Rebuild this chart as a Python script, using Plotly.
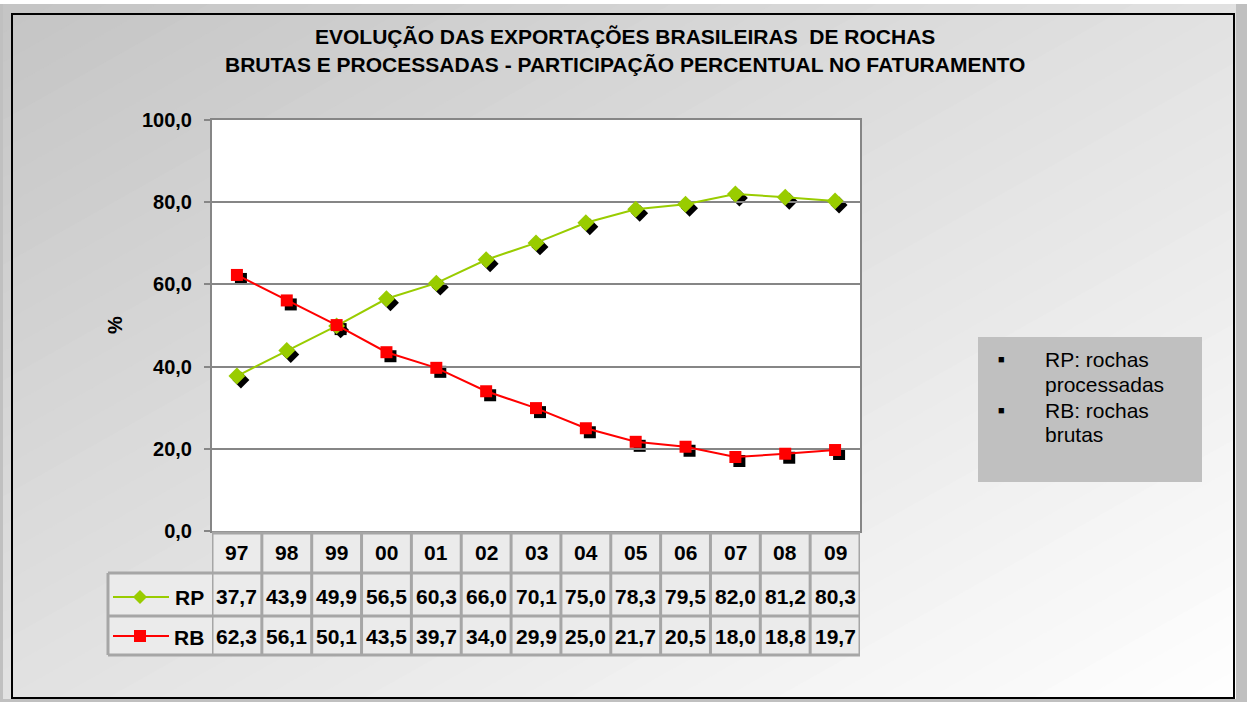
import plotly.graph_objects as go

# ---------------- data ----------------
years = ["97", "98", "99", "00", "01", "02", "03", "04", "05", "06", "07", "08", "09"]
rp = [37.7, 43.9, 49.9, 56.5, 60.3, 66.0, 70.1, 75.0, 78.3, 79.5, 82.0, 81.2, 80.3]
rb = [62.3, 56.1, 50.1, 43.5, 39.7, 34.0, 29.9, 25.0, 21.7, 20.5, 18.0, 18.8, 19.7]
y_ticks = [0, 20, 40, 60, 80, 100]
y_ticktext = ["0,0", "20,0", "40,0", "60,0", "80,0", "100,0"]
title_lines = ["EVOLUÇÃO DAS EXPORTAÇÕES BRASILEIRAS  DE ROCHAS",
               "BRUTAS E PROCESSADAS - PARTICIPAÇÃO PERCENTUAL NO FATURAMENTO"]
legend_lines = ["RP: rochas", "processadas", "RB: rochas", "brutas"]

# ---------------- layout helpers ----------------
W, H = 1247, 702
FONT = "Arial, 'Liberation Sans', sans-serif"
GREEN = "#99cc00"
RED = "#ff0000"
GRID = "#868686"
CELL = "#a6a6a6"


def px(x):
    return x / W


def py(y):
    return 1 - y / H


PL, PR, PT, PB = 212, 860, 120, 531  # plot area in pixels
SH = 4  # shadow offset px

x_pos = list(range(len(years)))
fmt = lambda v: f"{v:.1f}".replace(".", ",")

shapes = []
annotations = []


def ann(text, x, y, xref="paper", size=20, bold=True, xanchor="center", angle=0):
    f = dict(family=FONT, size=size, color="black")
    if bold:
        f["weight"] = "bold"
    annotations.append(dict(text=text, x=x, y=y, xref=xref, yref="paper",
                            xanchor=xanchor, yanchor="middle", showarrow=False,
                            textangle=angle, font=f))


# gradient background (diagonal, dark top-left -> white bottom-right)
GX0, GY0, GX1, GY1 = 3, 4, 1236, 699


def clip(t):
    poly = [(0, 0), (1, 0), (1, 1), (0, 1)]
    out = []
    n = len(poly)
    for i in range(n):
        a, b = poly[i], poly[(i + 1) % n]
        fa, fb = a[0] + a[1] - t, b[0] + b[1] - t
        if fa <= 0:
            out.append(a)
        if (fa < 0 < fb) or (fb < 0 < fa):
            r = fa / (fa - fb)
            out.append((a[0] + r * (b[0] - a[0]), a[1] + r * (b[1] - a[1])))
    return out


def gcol(s):
    c = int(round(196 + 59 * s))
    c = max(0, min(255, c))
    return f"rgb({c},{c},{c})"


N = 48
for k in range(N, 0, -1):
    t = 2 * k / N
    poly = clip(t)
    if len(poly) < 3:
        continue
    pts = [(px(GX0 + u * (GX1 - GX0)), py(GY0 + v * (GY1 - GY0))) for u, v in poly]
    path = "M " + " L ".join(f"{a:.5f},{b:.5f}" for a, b in pts) + " Z"
    shapes.append(dict(type="path", path=path, xref="paper", yref="paper",
                       fillcolor=gcol((k - 0.5) / N), line=dict(width=0), layer="below"))

# white strip at the very top
shapes.append(dict(type="rect", xref="paper", yref="paper", x0=0, x1=1, y0=py(4), y1=1,
                   fillcolor="white", line=dict(width=0), layer="below"))
# outer black frame
shapes.append(dict(type="rect", xref="paper", yref="paper", x0=px(12), x1=px(1234),
                   y0=py(698), y1=py(14), line=dict(color="black", width=2),
                   fillcolor="rgba(0,0,0,0)", layer="below"))
# plot area white
shapes.append(dict(type="rect", xref="paper", yref="paper", x0=px(PL), x1=px(PR),
                   y0=py(PB), y1=py(PT), fillcolor="white", line=dict(width=0), layer="below"))

# legend box on the right
shapes.append(dict(type="rect", xref="paper", yref="paper", x0=px(978), x1=px(1202),
                   y0=py(482), y1=py(337), fillcolor="#c0c0c0", line=dict(width=0), layer="below"))
leg_y = [359, 384, 410, 434]
for i, (txt, yy) in enumerate(zip(legend_lines, leg_y)):
    ann(txt, px(1043), py(yy), size=21, bold=False, xanchor="left")
    if i in (0, 2):
        ann("■", px(1001), py(yy), size=11, bold=False)

# title
for txt, yy in zip(title_lines, [37, 65]):
    ann(txt, px(625), py(yy), size=21)

# y-axis title
ann("%", px(115), py(325), size=20, angle=-90)

# ---------------- data table ----------------
T_TOP, R1, R2, T_BOT = 533, 573, 616, 655
LBL_L = 108
TW = 3
# cell fills
shapes.append(dict(type="rect", xref="paper", yref="paper", x0=px(PL), x1=px(PR),
                   y0=py(R1), y1=py(T_TOP), fillcolor="#ebebeb", line=dict(width=0), layer="below"))
shapes.append(dict(type="rect", xref="paper", yref="paper", x0=px(LBL_L), x1=px(PR),
                   y0=py(T_BOT), y1=py(R1), fillcolor="#ebebeb", line=dict(width=0), layer="below"))
for i in range(len(years) + 1):
    shapes.append(dict(type="line", xref="x2", yref="paper", x0=i - 0.5, x1=i - 0.5,
                       y0=py(T_BOT), y1=py(T_TOP), line=dict(color=CELL, width=TW)))
shapes.append(dict(type="line", xref="paper", yref="paper", x0=px(LBL_L), x1=px(LBL_L),
                   y0=py(T_BOT), y1=py(R1), line=dict(color=CELL, width=TW)))
shapes.append(dict(type="line", xref="paper", yref="paper", x0=px(PL), x1=px(PR),
                   y0=py(T_TOP), y1=py(T_TOP), line=dict(color=CELL, width=TW)))
for yy in (R1, R2, T_BOT):
    shapes.append(dict(type="line", xref="paper", yref="paper", x0=px(LBL_L), x1=px(PR),
                       y0=py(yy), y1=py(yy), line=dict(color=CELL, width=TW)))

# legend keys in table
for yy, col, sym in ((597, GREEN, "diamond"), (636, RED, "square")):
    shapes.append(dict(type="line", xref="paper", yref="paper", x0=px(113), x1=px(169),
                       y0=py(yy), y1=py(yy), line=dict(color=col, width=2)))
    cx = 140
    if sym == "diamond":
        d = 7
        path = (f"M {px(cx - d)},{py(yy)} L {px(cx)},{py(yy - d)} L {px(cx + d)},{py(yy)} "
                f"L {px(cx)},{py(yy + d)} Z")
    else:
        d = 6
        path = (f"M {px(cx - d)},{py(yy - d)} L {px(cx + d)},{py(yy - d)} L {px(cx + d)},{py(yy + d)} "
                f"L {px(cx - d)},{py(yy + d)} Z")
    shapes.append(dict(type="path", path=path, xref="paper", yref="paper",
                       fillcolor=col, line=dict(width=0)))
ann("RP", px(189), py(597), size=21)
ann("RB", px(189), py(637), size=21)

for i, (yr, a, b) in enumerate(zip(years, rp, rb)):
    ann(yr, i, py(552), xref="x2", size=21)
    ann(fmt(a), i, py(596), xref="x2", size=21)
    ann(fmt(b), i, py(636), xref="x2", size=21)

# ---------------- traces ----------------
fig = go.Figure()
# shadows (subplot xy, shifted right/down)
fig.add_trace(go.Scatter(x=x_pos, y=rp, mode="markers", xaxis="x", yaxis="y",
                         marker=dict(symbol="diamond", size=13, color="black"),
                         hoverinfo="skip", showlegend=False))
fig.add_trace(go.Scatter(x=x_pos, y=rb, mode="markers", xaxis="x", yaxis="y",
                         marker=dict(symbol="square", size=12, color="black"),
                         hoverinfo="skip", showlegend=False))
# main series (subplot x2y2)
fig.add_trace(go.Scatter(x=x_pos, y=rp, mode="lines+markers", name="RP", xaxis="x2", yaxis="y2",
                         line=dict(color=GREEN, width=2),
                         marker=dict(symbol="diamond", size=13, color=GREEN),
                         showlegend=False))
fig.add_trace(go.Scatter(x=x_pos, y=rb, mode="lines+markers", name="RB", xaxis="x2", yaxis="y2",
                         line=dict(color=RED, width=2),
                         marker=dict(symbol="square", size=12, color=RED),
                         showlegend=False))

xr = [-0.5, len(years) - 0.5]
fig.update_layout(
    template="none",
    width=W, height=H, autosize=False, margin=dict(l=0, r=0, t=0, b=0, pad=0),
    paper_bgcolor="#c0c0c0", plot_bgcolor="rgba(0,0,0,0)",
    font=dict(family=FONT, color="black"),
    showlegend=False,
    xaxis=dict(domain=[px(PL + SH), px(PR + SH)], range=xr, visible=False, anchor="y",
               automargin=False),
    yaxis=dict(domain=[py(PB + SH), py(PT + SH)], range=[0, 100], visible=False, anchor="x",
               automargin=False),
    xaxis2=dict(domain=[px(PL), px(PR)], range=xr, anchor="y2", showticklabels=False,
                showgrid=False, zeroline=False, showline=True, mirror=True,
                linecolor=GRID, linewidth=2, ticks="", automargin=False),
    yaxis2=dict(domain=[py(PB), py(PT)], range=[0, 100], anchor="x2",
                tickvals=y_ticks, ticktext=y_ticktext, ticks="outside", ticklen=6,
                tickwidth=2, tickcolor=GRID, showgrid=True, gridcolor=GRID, gridwidth=2,
                zeroline=False, showline=True, mirror=True, linecolor=GRID, linewidth=2,
                ticklabelstandoff=8, automargin=False,
                tickfont=dict(family=FONT, size=20, color="black", weight="bold")),
    shapes=shapes, annotations=annotations,
)

fig.write_html("out.html", config={"displayModeBar": False},
               post_script="document.body.style.margin='0';document.body.style.overflow='hidden';")
